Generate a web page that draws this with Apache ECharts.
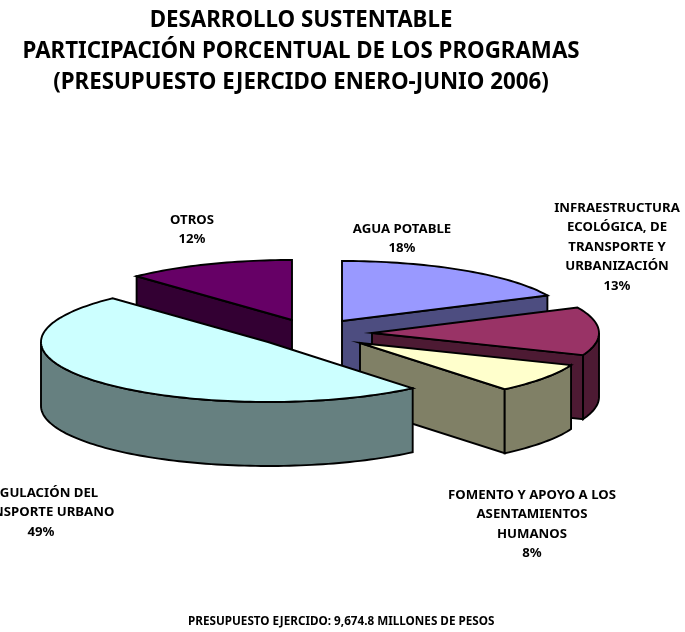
<!DOCTYPE html>
<html><head><meta charset="utf-8">
<style>html,body{margin:0;padding:0;background:#fff}#c{width:685px;height:632px}</style>
<script src="https://cdn.jsdelivr.net/npm/echarts@6/dist/echarts.min.js"></script>
</head><body><div id="c"></div>
<script>
const categories = ['AGUA POTABLE','INFRAESTRUCTURA ECOLÓGICA, DE TRANSPORTE Y URBANIZACIÓN','FOMENTO Y APOYO A LOS ASENTAMIENTOS HUMANOS','REGULACIÓN DEL TRANSPORTE URBANO','OTROS'];
const values = [18,13,8,49,12];
const labelLines = [['AGUA POTABLE'],['INFRAESTRUCTURA','ECOLÓGICA, DE','TRANSPORTE Y','URBANIZACIÓN'],['FOMENTO Y APOYO A LOS','ASENTAMIENTOS','HUMANOS'],['REGULACIÓN DEL','TRANSPORTE URBANO'],['OTROS']];
const topColors = ['#9999ff','#993366','#ffffcc','#ccffff','#660066'];
const sideColors = ['#4d4d80','#4d1a33','#808066','#668080','#330033'];
const apexes = [[342,321],[372,333],[360,343],[268,342],[292,320]];
const labelPos = [[402,219],[617,198],[532,485],[41,483],[192,210]];
const paintOrder = [4,0,1,2,3];
const RX=227, RY=60, DEPTH=64, FONT='"Noto Sans","Open Sans",sans-serif';
const total = values.reduce((a,b)=>a+b,0);
const P=(a,t,d)=>[a[0]+RX*Math.sin(t),a[1]-RY*Math.cos(t)+(d||0)];
function arc(a,t0,t1,d){const n=Math.max(2,Math.ceil(Math.abs(t1-t0)*40)),o=[];for(let i=0;i<=n;i++)o.push(P(a,t0+(t1-t0)*i/n,d));return o;}
const STROKE={stroke:'#000',lineWidth:1.9};
function poly(points,fill){return {type:'polygon',shape:{points},style:Object.assign({fill},STROKE)};}
function sliceParts(i,t0,t1){
  const a=apexes[i],parts=[],s=sideColors[i];
  const down=[a[0],a[1]+DEPTH];
  const radial=t=>poly([a,P(a,t),P(a,t,DEPTH),down],s);
  if(Math.sin(t1)>0) parts.push(radial(t1));
  if(Math.sin(t0)<0) parts.push(radial(t0));
  const w0=Math.max(t0,Math.PI/2),w1=Math.min(t1,Math.PI*1.5);
  if(w1>w0) parts.push(poly(arc(a,w0,w1,0).concat(arc(a,w1,w0,DEPTH)),s));
  parts.push(poly([a].concat(arc(a,t0,t1,0)),topColors[i]));
  return parts;
}
const chart=echarts.init(document.getElementById('c'));
const starts=[];let acc=0;values.forEach(v=>{starts.push(acc/total*2*Math.PI);acc+=v;});
const seriesData=paintOrder.map(i=>({value:[i,values[i],starts[i]],name:categories[i]}));
chart.setOption({
  animation:false,
  title:{text:'DESARROLLO SUSTENTABLE\nPARTICIPACIÓN PORCENTUAL DE LOS PROGRAMAS\n(PRESUPUESTO EJERCIDO ENERO-JUNIO 2006)',left:296,top:0,textAlign:'center',
    textStyle:{fontFamily:FONT,fontSize:22.3,fontWeight:'bold',color:'#000',lineHeight:31}},
  graphic:[{type:'text',left:188,top:616,style:{text:'PRESUPUESTO EJERCIDO: 9,674.8 MILLONES DE PESOS',font:'bold 11.7px '+FONT,fill:'#000'}}],
  series:[{type:'custom',coordinateSystem:'none',data:seriesData,encode:{},
    renderItem(params,api){
      const i=api.value(0),v=api.value(1),t0=api.value(2),t1=t0+v/total*2*Math.PI;
      const children=sliceParts(i,t0,t1);
      const lines=labelLines[i].concat([v+'%']);
      children.push({type:'text',z2:10,style:{x:labelPos[i][0],y:labelPos[i][1],text:lines.join('\n'),align:'center',verticalAlign:'top',font:'bold 13.2px '+FONT,lineHeight:19.5,fill:'#000'}});
      return {type:'group',children};
    }}]
});
</script></body></html>
